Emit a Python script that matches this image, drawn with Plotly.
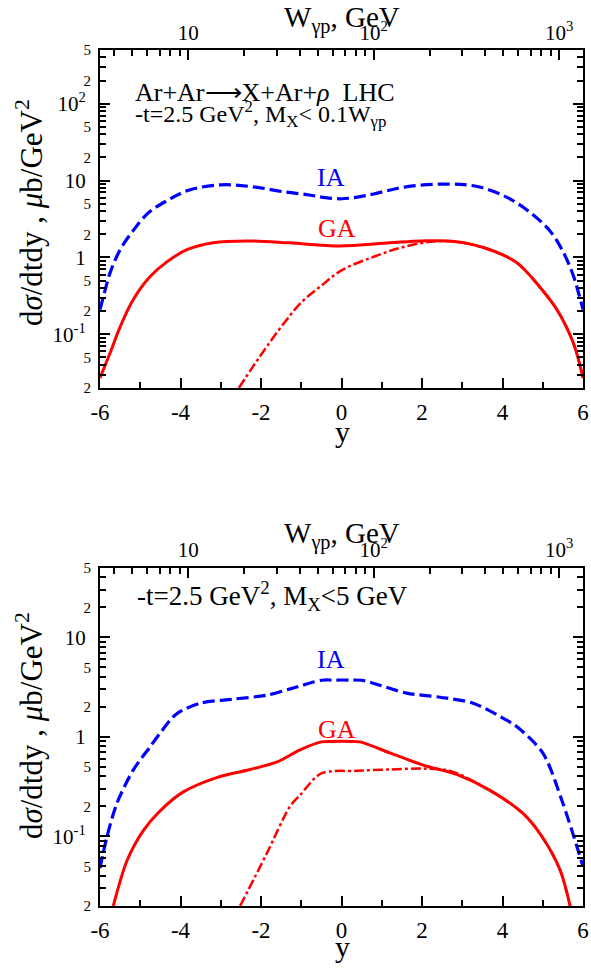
import plotly.graph_objects as go

# ---- top panel: Ar+Ar -> X+Ar+rho, M_X < 0.1 W ----
y_ia_top = [-6.0, -5.9, -5.75, -5.5, -5.2, -4.8, -4.3, -3.8, -3.0, -2.2, -1.4, -0.8, -0.4,
            0.0, 0.4, 0.8, 1.6, 2.7, 3.4, 4.1, 4.7, 5.2, 5.5, 5.75, 5.9, 6.0]
ia_top = [0.21, 0.33, 0.63, 1.26, 2.15, 3.8, 5.6, 7.5, 8.8, 8.3, 7.1, 6.5, 6.0,
          5.8, 6.1, 6.7, 8.3, 9.0, 8.3, 6.1, 3.8, 2.15, 1.2, 0.6, 0.33, 0.21]

y_ga_top = [-6.0, -5.75, -5.5, -5.18, -4.76, -4.34, -3.84, -3.19, -2.35, -1.3, -0.04,
            1.2, 2.0, 2.86, 3.69, 4.36, 4.93, 5.35, 5.76, 6.0]
ga_top = [0.027, 0.057, 0.125, 0.28, 0.56, 0.875, 1.26, 1.55, 1.64, 1.55, 1.41,
          1.55, 1.64, 1.6, 1.26, 0.85, 0.41, 0.21, 0.077, 0.027]

y_dd_top = [-2.55, -2.2, -1.85, -1.45, -1.0, -0.5, 0.0, 0.8, 1.45, 2.2, 2.86, 3.69,
            4.36, 4.93, 5.35, 5.76, 6.0]
dd_top = [0.02, 0.038, 0.07, 0.135, 0.26, 0.43, 0.68, 1.02, 1.33, 1.6, 1.6, 1.26,
          0.85, 0.41, 0.21, 0.077, 0.027]

# ---- bottom panel: M_X < 5 GeV ----
y_ia_bot = [-6.0, -5.83, -5.58, -5.18, -4.76, -4.5, -4.1, -3.5, -2.7, -1.86, -1.25,
            -0.5, -0.2, 0.2, 0.5, 0.79, 1.62, 2.45, 3.27, 4.1, 4.36, 5.0, 5.5, 6.0]
ia_bot = [0.048, 0.098, 0.215, 0.46, 0.79, 1.1, 1.7, 2.18, 2.39, 2.62, 3.05,
          3.7, 3.72, 3.72, 3.7, 3.46, 2.75, 2.5, 2.18, 1.47, 1.26, 0.69, 0.215, 0.05]

y_ga_bot = [-5.67, -5.33, -4.92, -4.51, -3.93, -3.1, -2.27, -1.6, -1.03, -0.5, -0.2,
            0.2, 0.46, 1.2, 2.03, 2.86, 3.69, 4.51, 5.0, 5.43, 5.68]
ga_bot = [0.02, 0.057, 0.115, 0.18, 0.28, 0.39, 0.47, 0.56, 0.74, 0.89, 0.9,
          0.9, 0.89, 0.69, 0.52, 0.42, 0.29, 0.17, 0.097, 0.046, 0.02]

y_dd_bot = [-2.52, -1.86, -1.28, -1.03, -0.5, 0.37, 1.2, 2.03, 2.7, 3.69, 4.51,
            5.0, 5.43, 5.68]
dd_bot = [0.02, 0.067, 0.2, 0.26, 0.43, 0.456, 0.47, 0.48, 0.455, 0.29, 0.17,
          0.097, 0.046, 0.02]

# tick labels
x_ticks = [-6, -4, -2, 0, 2, 4, 6]
x_ticktext = ["-6", "-4", "-2", "0", "2", "4", "6"]
w_ticks = [10, 100, 1000]
w_ticktext = ["10", "10<sup>2</sup>", "10<sup>3</sup>"]

FONT = "Liberation Serif, Times New Roman, serif"
BLUE = "#0000ff"
RED = "#ff0000"

fig = go.Figure()


def add_panel(xa, ya, y_ia, ia, y_ga, ga, y_dd, dd, smooth):
    fig.add_trace(go.Scatter(x=y_ia, y=ia, mode="lines", xaxis=xa, yaxis=ya,
                             line=dict(color=BLUE, width=3.2, dash="12px,5px",
                                       shape="spline", smoothing=smooth),
                             showlegend=False, hoverinfo="skip"))
    fig.add_trace(go.Scatter(x=y_dd, y=dd, mode="lines", xaxis=xa, yaxis=ya,
                             line=dict(color=RED, width=2.5, dash="10px,3px,3px,3px",
                                       shape="spline", smoothing=smooth),
                             showlegend=False, hoverinfo="skip"))
    fig.add_trace(go.Scatter(x=y_ga, y=ga, mode="lines", xaxis=xa, yaxis=ya,
                             line=dict(color=RED, width=3, shape="spline", smoothing=smooth),
                             showlegend=False, hoverinfo="skip"))


add_panel("x", "y", y_ia_top, ia_top, y_ga_top, ga_top, y_dd_top, dd_top, 1.0)
add_panel("x2", "y2", y_ia_bot, ia_bot, y_ga_bot, ga_bot, y_dd_bot, dd_bot, 0.85)

# empty traces so the overlay axes get drawn
for xa, ya in [("x3", "y"), ("x4", "y2"), ("x", "y3"), ("x2", "y4")]:
    fig.add_trace(go.Scatter(x=[], y=[], xaxis=xa, yaxis=ya, showlegend=False))


def minor_log(lo, hi):
    vals = []
    for d in range(lo, hi + 1):
        for m in range(2, 10):
            vals.append(m * 10.0 ** d)
    return vals


def small_labels(lo, hi):
    vals = []
    for d in range(lo, hi + 1):
        vals += [2 * 10.0 ** d, 5 * 10.0 ** d]
    return vals


W_RANGE = [0.524, 3.128]
W_MINOR = [4, 5, 6, 7, 8, 9] + [20, 30, 40, 50, 60, 70, 80, 90] + [200, 300, 400, 500, 600, 700, 800, 900]

x_common = dict(range=[-6, 6], tickmode="array", tickvals=x_ticks, ticktext=x_ticktext,
                ticks="inside", ticklen=10, tickwidth=1.5, tickcolor="black", automargin=False,
                showline=True, linecolor="black", linewidth=2, showgrid=False, zeroline=False,
                tickfont=dict(family=FONT, size=23, color="black"), ticklabelstandoff=2,
                minor=dict(tickmode="array", tickvals=[-5, -3, -1, 1, 3, 5], ticks="inside",
                           ticklen=6, tickwidth=1.5, tickcolor="black"))

w_common = dict(type="log", range=W_RANGE, side="top", tickmode="array", tickvals=w_ticks,
                ticktext=w_ticktext, ticks="inside", ticklen=10, tickwidth=1.5, tickcolor="black",
                showline=True, linecolor="black", linewidth=2, showgrid=False, zeroline=False,
                automargin=False, tickfont=dict(family=FONT, size=21, color="black"),
                ticklabelstandoff=0,
                minor=dict(tickmode="array", tickvals=W_MINOR, ticks="inside", ticklen=6,
                           tickwidth=1.5, tickcolor="black"))


def y_main(rng, lo, hi, decades, dec_text, domain):
    return dict(type="log", range=rng, domain=domain, tickmode="array", tickvals=decades,
                ticktext=dec_text, ticks="inside", ticklen=10, tickwidth=1.5, tickcolor="black",
                showline=True, linecolor="black", linewidth=2, mirror="ticks",
                showgrid=False, zeroline=False, automargin=False,
                tickfont=dict(family=FONT, size=21, color="black"), ticklabelstandoff=8,
                minor=dict(tickmode="array", tickvals=minor_log(lo, hi), ticks="inside",
                           ticklen=6, tickwidth=1.5, tickcolor="black"))


def y_labels(rng, lo, hi, overlay, anchor):
    vals = small_labels(lo, hi)
    txt = ["2" if i % 2 == 0 else "5" for i in range(len(vals))]
    return dict(type="log", range=rng, overlaying=overlay, anchor=anchor, side="left",
                tickmode="array", tickvals=vals, ticktext=txt, ticks="", showline=False,
                showgrid=False, zeroline=False, ticklabelstandoff=8, automargin=False,
                tickfont=dict(family=FONT, size=15, color="black"))


TOP_DOM = [0.6051, 1.0]
BOT_DOM = [0.0, 0.3952]
TOP_RANGE = [-1.699, 2.699]
BOT_RANGE = [-1.699, 1.699]

fig.update_layout(
    width=591, height=969,
    margin=dict(l=100, r=8, t=50, b=63, autoexpand=False),
    paper_bgcolor="white", plot_bgcolor="white",
    font=dict(family=FONT, color="black"),
    xaxis=dict(anchor="y", **x_common),
    xaxis2=dict(anchor="y2", **x_common),
    xaxis3=dict(anchor="y", overlaying="x", **w_common),
    xaxis4=dict(anchor="y2", overlaying="x2", **w_common),
    yaxis=y_main(TOP_RANGE, -2, 2, [0.1, 1, 10, 100], ["10<sup>-1</sup>", "1", "10", "10<sup>2</sup>"], TOP_DOM),
    yaxis2=y_main(BOT_RANGE, -2, 1, [0.1, 1, 10], ["10<sup>-1</sup>", "1", "10"], BOT_DOM),
    yaxis3=y_labels(TOP_RANGE, -2, 2, "y", "x"),
    yaxis4=y_labels(BOT_RANGE, -2, 1, "y2", "x2"),
)

# axis titles (placed as text so they sit where the reference has them)
ytitle = "d<i>σ</i>/dtdy , <i>μ</i>b/GeV<sup>2</sup>"
wtitle = "W<sub>γp</sub>, GeV"
for yc in [0.8107, 0.2114]:
    fig.add_annotation(x=-0.147, y=yc, xref="paper", yref="paper", text=ytitle, textangle=-90,
                       xanchor="center", yanchor="middle", showarrow=False,
                       font=dict(family=FONT, size=31, color="black"))
for yc in [0.5549, -0.0473]:
    fig.add_annotation(x=0.502, y=yc, xref="paper", yref="paper", text="y",
                       xanchor="center", yanchor="middle", showarrow=False,
                       font=dict(family=FONT, size=30, color="black"))
for yc in [1.0360, 0.4330]:
    fig.add_annotation(x=0.502, y=yc, xref="paper", yref="paper", text=wtitle,
                       xanchor="center", yanchor="middle", showarrow=False,
                       font=dict(family=FONT, size=29, color="black"))

# curve labels and panel texts
lab = dict(family=FONT, size=26)
fig.add_annotation(x=-0.26, y=1.034, xref="x", yref="y", text="IA", showarrow=False,
                   font=dict(color=BLUE, **lab))
fig.add_annotation(x=-0.11, y=0.371, xref="x", yref="y", text="GA", showarrow=False,
                   font=dict(color=RED, **lab))
fig.add_annotation(x=-0.26, y=0.781, xref="x2", yref="y2", text="IA", showarrow=False,
                   font=dict(color=BLUE, **lab))
fig.add_annotation(x=-0.11, y=0.078, xref="x2", yref="y2", text="GA", showarrow=False,
                   font=dict(color=RED, **lab))

fig.add_annotation(x=0.0683, y=0.9500, xref="paper", yref="paper", xanchor="left", yanchor="middle",
                   text="Ar+Ar⟶X+Ar+<i>ρ</i>  LHC", showarrow=False,
                   font=dict(family=FONT, size=26, color="black"))
fig.add_annotation(x=0.0683, y=0.9250, xref="paper", yref="paper", xanchor="left", yanchor="middle",
                   text="-t=2.5 GeV<sup>2</sup>, M<sub>X</sub>&lt; 0.1W<sub>γp</sub>", showarrow=False,
                   font=dict(family=FONT, size=24, color="black"))
fig.add_annotation(x=0.0725, y=0.3616, xref="paper", yref="paper", xanchor="left", yanchor="middle",
                   text="-t=2.5 GeV<sup>2</sup>, M<sub>X</sub>&lt;5 GeV", showarrow=False,
                   font=dict(family=FONT, size=27, color="black"))

# the page body has a default 8px margin; drop it so the figure fills the window
fig.write_html("out.html", config={"displayModeBar": False},
               post_script="document.body.style.margin='0';document.body.style.overflow='hidden';")
